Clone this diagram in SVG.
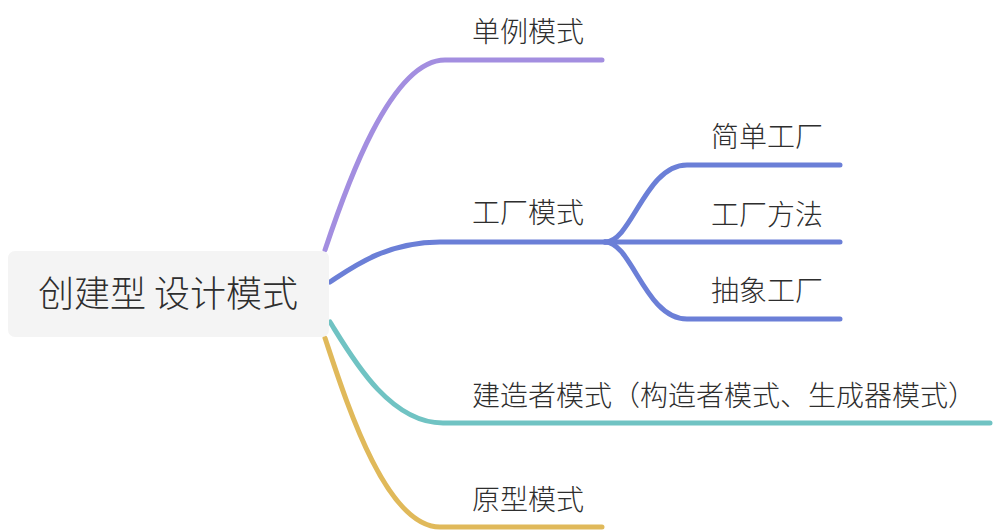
<svg xmlns="http://www.w3.org/2000/svg" width="996" height="532" viewBox="0 0 996 532">
<style>
.lbl{font-family:"Noto Sans CJK SC","Noto Sans",sans-serif;font-size:28px;font-weight:300;fill:#2e2e2e}
.root{font-family:"Noto Sans CJK SC","Noto Sans",sans-serif;font-size:36px;font-weight:300;fill:#2e2e2e}
.c{fill:none;stroke-width:5;stroke-linecap:round;stroke-linejoin:round}
.p{stroke:#a38ee0}.b{stroke:#6b7fd7}.t{stroke:#70c3c3}.g{stroke:#e0b95a}
</style>
<rect width="996" height="532" fill="#ffffff"/>
<g id="connectors">
<path class="c p" d="M325,250 C345,190 390,60 445,60 L602,60"/>
<path class="c b" d="M330,282 C350,269 385,242 440,242 L605,242"/>
<path class="c b" d="M605,242 C632,242 645,165 687,165 L840,165"/>
<path class="c b" d="M605,242 L840,242"/>
<path class="c b" d="M605,242 C632,242 645,319 687,319 L840,319"/>
<path class="c t" d="M330,322 C350,354 388,423 443,423 L990,423"/>
<path class="c g" d="M325,338 C345,398 385,527 440,527 L602,527"/>
</g>
<g id="root">
<rect x="8" y="251" width="321" height="86" rx="7" fill="#f4f4f4"/>
<text class="root" x="168" y="307" text-anchor="middle">创建型 设计模式</text>
</g>
<g id="n-singleton"><text class="lbl" x="472" y="42">单例模式</text></g>
<g id="n-factory"><text class="lbl" x="472" y="223">工厂模式</text></g>
<g id="n-simple"><text class="lbl" x="711" y="147">简单工厂</text></g>
<g id="n-method"><text class="lbl" x="711" y="225">工厂方法</text></g>
<g id="n-abstract"><text class="lbl" x="711" y="301">抽象工厂</text></g>
<g id="n-builder"><text class="lbl" x="472" y="406">建造者模式（构造者模式、生成器模式）</text></g>
<g id="n-prototype"><text class="lbl" x="472" y="510">原型模式</text></g>
</svg>
